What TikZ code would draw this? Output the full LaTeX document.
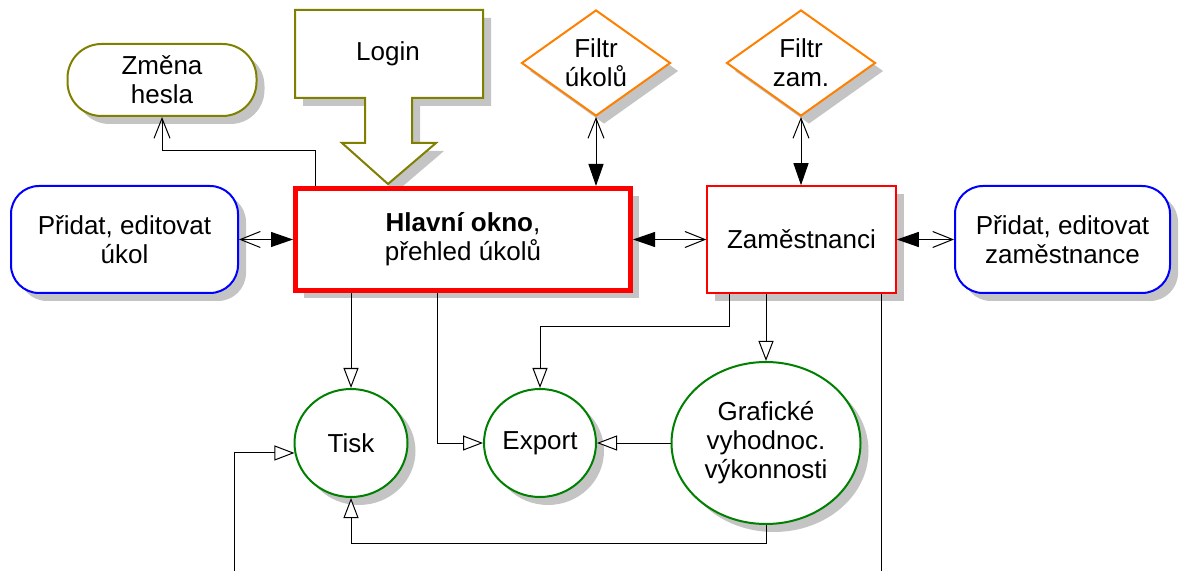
\documentclass[tikz,border=0pt]{standalone}
\usepackage{fontspec}
\setmainfont{Liberation Sans}
\usetikzlibrary{shapes.geometric,arrows.meta,shadows}

\definecolor{olivedraw}{RGB}{128,128,0}
\definecolor{orangedraw}{RGB}{255,128,0}
\definecolor{greendraw}{RGB}{0,128,0}
\definecolor{bluedraw}{RGB}{0,0,255}
\definecolor{reddraw}{RGB}{255,0,0}
\definecolor{shadowgray}{RGB}{196,196,196}

\tikzset{
	openV/.tip={Straight Barb[length=10pt,width=8pt]},
	fullT/.tip={Triangle[length=11pt,width=7.5pt]},
	hollowT/.tip={Triangle[open,length=10pt,width=7.5pt,fill=white]},
	dropsh/.style={drop shadow={shadow xshift=4pt,shadow yshift=-4pt,fill=shadowgray,opacity=1}},
	txt/.style={align=center,font=\fontsize{13}{14.5}\selectfont},
	box/.style={txt,draw,fill=white,inner sep=0pt,line width=1pt,dropsh},
	stadium/.style={box,draw=olivedraw,rounded corners=17pt,minimum width=94.5pt,minimum height=36pt},
	addbox/.style={box,draw=bluedraw,rounded corners=14pt,minimum height=53.5pt},
	filterbox/.style={box,diamond,draw=orangedraw,aspect=1.4,minimum width=74.5pt,minimum height=53pt},
	mainbox/.style={box,draw=reddraw,line width=2.5pt,minimum width=167.5pt,minimum height=51pt},
	subbox/.style={box,draw=reddraw,line width=0.75pt,minimum width=94.5pt,minimum height=53.5pt},
	outbox/.style={box,ellipse,draw=greendraw},
	link/.style={draw,line width=0.5pt}
}

\begin{document}
\begin{tikzpicture}[x=0.5pt,y=-0.5pt]
	\useasboundingbox (0,0) rectangle (1182,571);

	\node[stadium] (zmena) at (162,80) {Změna\\hesla};

	\draw[olivedraw,line width=1pt,fill=white,dropsh] (295,10) -- (483,10) -- (483,98) -- (412,98) -- (412,143) -- (436,143) -- (388,184) -- (342,143) -- (365,143) -- (365,98) -- (295,98) -- cycle;
	\node[txt] (login) at (388,54) {Login};

	\node[filterbox] (filtrU) at (596,63) {Filtr\\úkolů};
	\node[filterbox] (filtrZ) at (801,63) {Filtr\\zam.};

	\node[addbox,minimum width=113.5pt] (pridatU) at (124.5,239.5) {Přidat, editovat\\úkol};
	\node[mainbox] (hlavni) at (463,239.5) {\textbf{Hlavní okno},\\přehled úkolů};
	\node[subbox] (zam) at (801.5,239.5) {Zaměstnanci};
	\node[addbox,minimum width=107.5pt] (pridatZ) at (1062.5,239.5) {Přidat, editovat\\zaměstnance};

	\node[outbox,minimum width=56.5pt,minimum height=54pt] (tisk) at (351,443) {Tisk};
	\node[outbox,minimum width=56pt,minimum height=54pt] (export) at (540,443) {Export};
	\node[outbox,minimum width=94.5pt,minimum height=81pt] (graf) at (766,443) {Grafické\\vyhodnoc.\\výkonnosti};

	\coordinate (tiskIn) at (234,571);
	\coordinate (zamOut) at (881,571);

	\draw[link,-openV] ([xshift=11pt]hlavni.north west) -- ++(0,-35) -| (zmena.south);
	\draw[link,openV-fullT] (pridatU.east) -- (hlavni.west);
	\draw[link,openV-fullT] (filtrU.south) -- (filtrU.south |- hlavni.north);
	\draw[link,fullT-openV] (hlavni.east) -- (zam.west);
	\draw[link,openV-fullT] (filtrZ.south) -- (filtrZ.south |- zam.north);
	\draw[link,fullT-openV] (zam.east) -- (pridatZ.west);

	\draw[link,-hollowT] (tisk.north |- hlavni.south) -- (tisk.north);
	\draw[link,-hollowT] ([xshift=72pt]hlavni.south west) |- (export.west);
	\draw[link,-hollowT] ([xshift=11.5pt]zam.south west) -- ++(0,33) -| (export.north);
	\draw[link,-hollowT] (graf.north |- zam.south) -- (graf.north);
	\draw[link,-hollowT] (graf.west) -- (export.east);
	\draw[link,-hollowT] (graf.south) -- ++(0,18) -| (tisk.south);
	\draw[link,-hollowT] (tiskIn) |- (tisk.190);
	\draw[link] (zamOut |- zam.south) -- (zamOut);

\end{tikzpicture}
\end{document}
